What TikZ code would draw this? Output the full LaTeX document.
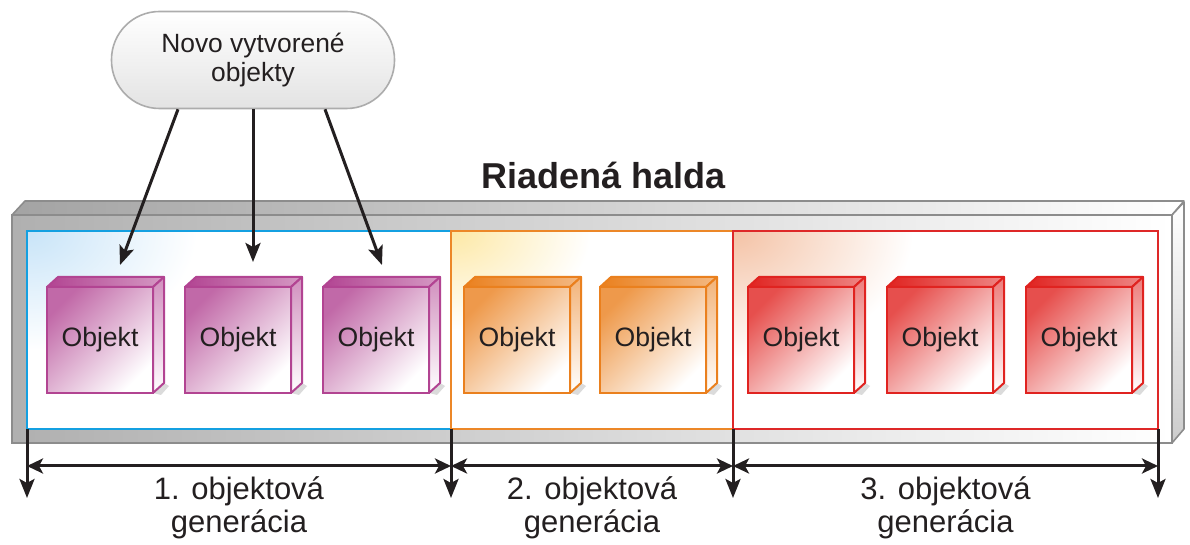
\documentclass[tikz,border=0pt]{standalone}
\usepackage{fontspec}
\setmainfont{Liberation Sans}
\usetikzlibrary{arrows.meta,calc}

\definecolor{objpurple}{RGB}{178,68,146}
\definecolor{objorange}{RGB}{234,128,30}
\definecolor{objred}{RGB}{224,35,32}
\definecolor{genblue}{RGB}{20,160,225}
\definecolor{genorange}{RGB}{236,135,40}
\definecolor{genred}{RGB}{222,40,40}
\definecolor{glowblue}{RGB}{200,228,248}
\definecolor{glowyellow}{RGB}{253,232,165}
\definecolor{glowpeach}{RGB}{244,194,165}
\definecolor{heapline}{RGB}{140,140,140}
\definecolor{ink}{RGB}{35,31,32}

% one object: a small box with its label on the front face
% #1 name, #2 left x, #3 top y of the front face, #4 colour
\newcommand\objcube[4]{%
  \fill[gray!28] ($(#2,#3)+(106,106)$) -- ++(11,-10) -- ++(5,3) -- ++(-8,9) -- cycle;
  \shade[top color=#4!80, middle color=#4!45, bottom color=white, shading angle=45]
    (#2,#3) rectangle ++(106,106);
  \node[objface=#4] (#1) at ($(#2,#3)+(53,53)$) {Objekt};
  \shade[left color=#4, right color=#4!55, draw=#4, line width=1pt, line join=round]
    (#1.north west) -- ++(11,-10) -- ++(106,0) -- (#1.north east) -- cycle;
  \shade[top color=#4!60, middle color=white, bottom color=white, draw=#4, line width=1pt, line join=round]
    (#1.north east) -- ++(11,-10) -- ++(0,106) -- (#1.south east) -- cycle;
}

\begin{document}
\begin{tikzpicture}[x=0.5pt,y=-0.5pt,
  objface/.style={draw=#1, line width=1pt, minimum width=53pt, minimum height=53pt,
    inner sep=0pt, outer sep=0pt, text=ink, font=\fontsize{13.3}{15}\selectfont},
  genbox/.style={draw=#1, line width=1.1pt, inner sep=0pt, outer sep=0pt,
    minimum height=99pt, anchor=north west},
  arr/.style={line width=1.5pt, draw=ink, -{Stealth[length=9.5pt,width=7.5pt,inset=2pt]}},
  dimarr/.style={line width=1.5pt, draw=ink,
    {Stealth[length=8pt,width=7.5pt,inset=2pt]}-{Stealth[length=8pt,width=7.5pt,inset=2pt]}},
  genlabel/.style={align=center, text=ink, font=\fontsize{15.5}{16.5}\selectfont},
]
\useasboundingbox (0,0) rectangle (1190,545);

% ---- the heap as a long flat slab ----
\shade[left color=gray!72, middle color=gray!25, right color=white, draw=heapline, line width=0.8pt, line join=round]
  (12,215) -- (25,201) -- (1184,201) -- (1172,215) -- cycle;
\shade[left color=gray!62, middle color=gray!25, right color=white, draw=heapline, line width=0.8pt]
  (12,215) rectangle (1172,443);
\shade[top color=white, middle color=white, bottom color=gray!40, draw=heapline, line width=0.8pt, line join=round]
  (1172,215) -- (1184,202) -- (1184,429) -- (1172,443) -- cycle;

% ---- generation areas ----
\fill[white] (27,231) rectangle (1158,429);
\begin{scope}
  \clip (27,231) rectangle (451,429);
  \shade[inner color=glowblue, outer color=white] (27,231) ellipse (85pt and 60pt);
\end{scope}
\begin{scope}
  \clip (451,231) rectangle (733,429);
  \shade[inner color=glowyellow, outer color=white] (451,231) ellipse (70pt and 50pt);
\end{scope}
\begin{scope}
  \clip (733,231) rectangle (1158,429);
  \shade[inner color=glowpeach, outer color=white] (733,231) ellipse (90pt and 65pt);
\end{scope}
\node[genbox=genblue,   minimum width=212pt]   (g1) at (27,231)  {};
\node[genbox=genorange, minimum width=141pt]   (g2) at (451,231) {};
\node[genbox=genred,    minimum width=212.5pt] (g3) at (733,231) {};

% ---- objects ----
\objcube{c1}{47}{287}{objpurple}
\objcube{c2}{185}{287}{objpurple}
\objcube{c3}{323}{287}{objpurple}
\objcube{c4}{464}{287}{objorange}
\objcube{c5}{600}{287}{objorange}
\objcube{c6}{748}{287}{objred}
\objcube{c7}{887}{287}{objred}
\objcube{c8}{1026}{287}{objred}

% ---- title ----
\node[font=\bfseries\fontsize{18}{20}\selectfont, text=ink] (title) at (604,175) {Riadená halda};

% ---- new objects ----
\node[draw=gray!65, line width=0.8pt, rounded corners=24pt, top color=white, bottom color=gray!22,
  minimum width=141.5pt, minimum height=48.5pt, align=center, text=ink,
  font=\fontsize{13.2}{14.5}\selectfont] (nov) at (253,60) {Novo vytvorené\\objekty};
\draw[arr] ($(nov.south)+(-75,0)$) -- ($(c1.north)+(20,-22)$);
\draw[arr] (nov.south) -- ($(c2.north)+(15,-25)$);
\draw[arr] ($(nov.south)+(72,0)$) -- ($(c3.north)+(6,-22)$);

% ---- generation extents ----
\coordinate (e0) at ($(g1.south west)+(0,69)$);
\coordinate (e1) at ($(g1.south east)+(0,69)$);
\coordinate (e2) at ($(g2.south east)+(0,69)$);
\coordinate (e3) at ($(g3.south east)+(0,69)$);
\draw[arr] (g1.south west) -- (e0);
\draw[arr] (g1.south east) -- (e1);
\draw[arr] (g2.south east) -- (e2);
\draw[arr] (g3.south east) -- (e3);
\draw[dimarr] ($(g1.south west)+(0,37)$) -- ($(g1.south east)+(0,37)$);
\draw[dimarr] ($(g2.south west)+(0,37)$) -- ($(g2.south east)+(0,37)$);
\draw[dimarr] ($(g3.south west)+(0,37)$) -- ($(g3.south east)+(0,37)$);

\node[genlabel] (l1) at (239,508)   {1. objektová\\generácia};
\node[genlabel] (l2) at (592,508)   {2. objektová\\generácia};
\node[genlabel] (l3) at (945.5,508) {3. objektová\\generácia};
\end{tikzpicture}
\end{document}
